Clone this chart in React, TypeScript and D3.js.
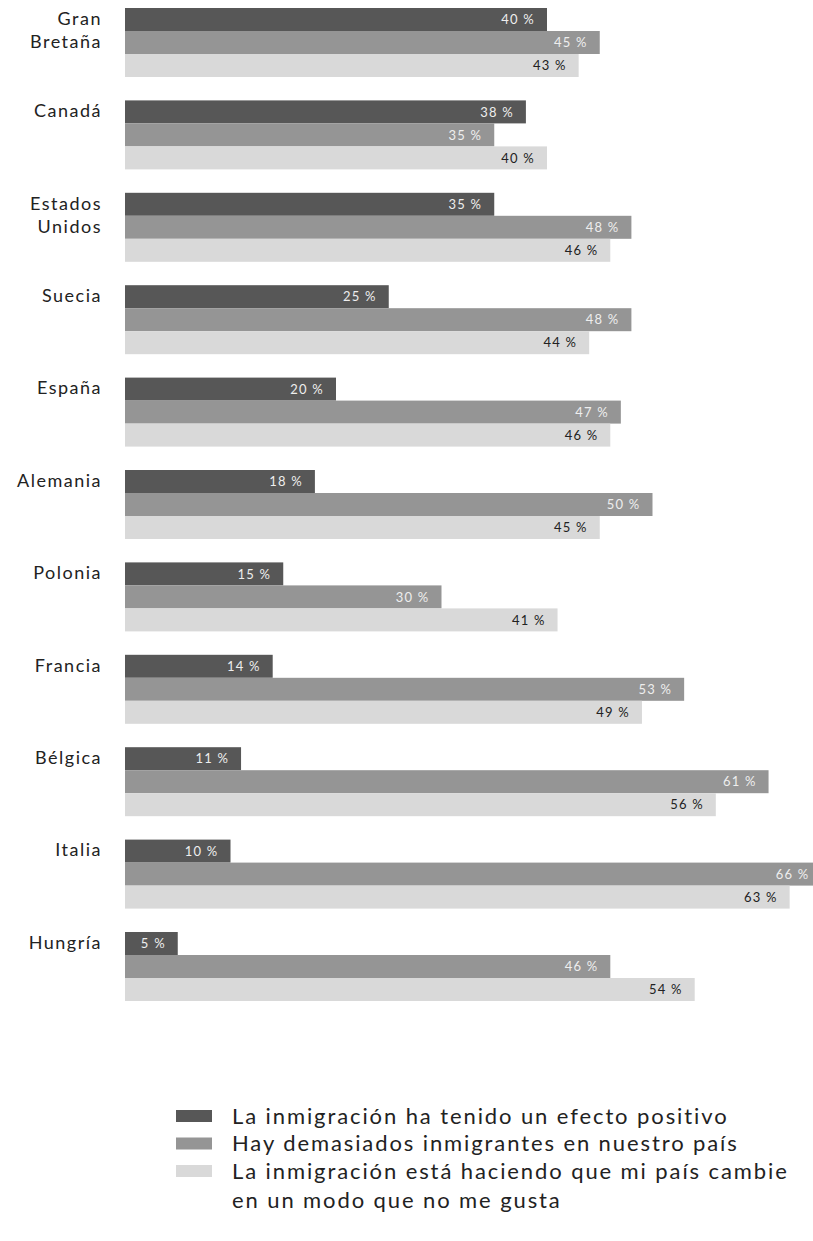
import React from "react";
import * as d3 from "d3";

const countries: string[][] = [
  ["Gran", "Bretaña"],
  ["Canadá"],
  ["Estados", "Unidos"],
  ["Suecia"],
  ["España"],
  ["Alemania"],
  ["Polonia"],
  ["Francia"],
  ["Bélgica"],
  ["Italia"],
  ["Hungría"],
];
const positivo = [40, 38, 35, 25, 20, 18, 15, 14, 11, 10, 5];
const demasiados = [45, 35, 48, 48, 47, 50, 30, 53, 61, 66, 46];
const cambie = [43, 40, 46, 44, 46, 45, 41, 49, 56, 63, 54];

const seriesNames = [
  ["La inmigración ha tenido un efecto positivo"],
  ["Hay demasiados inmigrantes en nuestro país"],
  ["La inmigración está haciendo que mi país cambie", "en un modo que no me gusta"],
];
const colors = ["#575757", "#959595", "#d9d9d9"];
const labelColors = ["#eeeeee", "#eeeeee", "#222222"];

const W = 813;
const H = 1241;

export default function App() {
  const x = d3.scaleLinear().domain([0, 66]).range([125, 125 + 66 * 10.55]);
  const groupY = d3
    .scaleBand<number>()
    .domain(d3.range(countries.length))
    .range([8, 8 + 92.4 * countries.length])
    .paddingInner(0)
    .paddingOuter(0);
  const barH = 23;
  const series = [positivo, demasiados, cambie];
  const font = "Lato, 'Open Sans', sans-serif";

  return (
    <svg
      width={W}
      height={H}
      style={{ position: "absolute", left: 0, top: 0, background: "#fff", overflow: "hidden" }}
      fontFamily={font}
    >
      <rect x={0} y={0} width={W} height={H} fill="#fff" />
      {countries.map((name, i) => {
        const gy = groupY(i) as number;
        return (
          <g key={i}>
            {name.map((line, j) => (
              <text
                key={j}
                x={102}
                y={gy + barH / 2 + j * barH - 1}
                dy="0.35em"
                textAnchor="end"
                fontSize={18}
                letterSpacing={1.5}
                fill="#222"
              >
                {line}
              </text>
            ))}
            {series.map((s, k) => {
              const y = gy + k * barH;
              const xe = x(s[i]);
              return (
                <g key={k}>
                  <rect x={x(0)} y={y} width={xe - x(0)} height={barH} fill={colors[k]} />
                  <text
                    x={xe - 12}
                    y={y + barH / 2}
                    dy="0.36em"
                    textAnchor="end"
                    fontSize={13}
                    letterSpacing={1.2}
                    fill={labelColors[k]}
                  >
                    {`${s[i]} %`}
                  </text>
                </g>
              );
            })}
          </g>
        );
      })}
      {seriesNames.map((lines, k) => {
        const baseY = 1116 + k * 27.5;
        return (
          <g key={k}>
            <rect x={176} y={baseY - 6} width={36} height={12} fill={colors[k]} />
            {lines.map((ln, j) => (
              <text
                key={j}
                x={232}
                y={baseY + j * 29}
                dy="0.35em"
                fontSize={22}
                letterSpacing={1.9}
                fill="#222"
              >
                {ln}
              </text>
            ))}
          </g>
        );
      })}
    </svg>
  );
}
